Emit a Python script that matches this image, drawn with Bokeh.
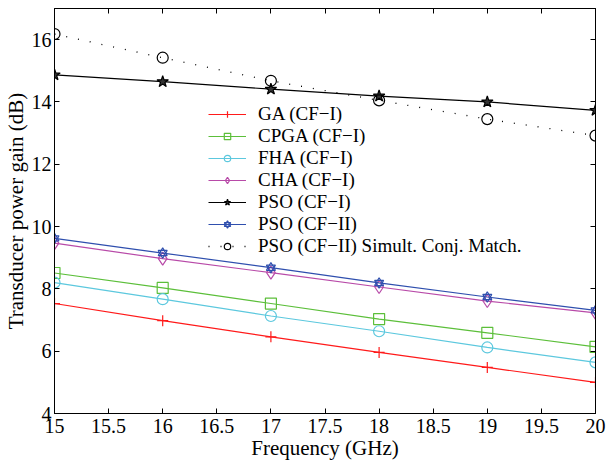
from bokeh.plotting import figure
from bokeh.models import (LinearAxis, FixedTicker, Range1d, Legend, LegendItem,
                          CustomJSTickFormatter)
from bokeh.embed import file_html
from bokeh.resources import INLINE

freq = [15, 16, 17, 18, 19, 20]
ga = [7.53, 6.98, 6.46, 5.96, 5.48, 5.0]
cpga = [8.51, 8.03, 7.53, 7.03, 6.59, 6.14]
fha = [8.2, 7.67, 7.13, 6.64, 6.12, 5.64]
cha = [9.47, 8.97, 8.52, 8.06, 7.61, 7.23]
pso1 = [14.87, 14.65, 14.41, 14.19, 14.0, 13.73]
pso2 = [9.62, 9.15, 8.68, 8.19, 7.74, 7.31]
pso_scm = [16.18, 15.42, 14.68, 14.05, 13.45, 12.92]

x_ticks = [15, 15.5, 16, 16.5, 17, 17.5, 18, 18.5, 19, 19.5, 20]
x_tick_labels = ["15", "15.5", "16", "16.5", "17", "17.5", "18", "18.5", "19", "19.5", "20"]
y_ticks = [4, 6, 8, 10, 12, 14, 16]

labels = ["GA (CF\u2212I)", "CPGA (CF\u2212I)", "FHA (CF\u2212I)", "CHA (CF\u2212I)",
          "PSO (CF\u2212I)", "PSO (CF\u2212II)", "PSO (CF\u2212II) Simult. Conj. Match."]

FONT = "Liberation Serif"

p = figure(width=607, height=466, output_backend="svg", toolbar_location=None,
           x_range=Range1d(15, 20), y_range=Range1d(4, 17),
           min_border_left=52, min_border_right=12, min_border_top=8, min_border_bottom=53)
p.background_fill_color = "white"
p.border_fill_color = "white"
p.grid.visible = False
p.outline_line_color = "black"
p.outline_line_width = 1

for ax in p.xaxis + p.yaxis:
    ax.major_tick_in = 5
    ax.major_tick_out = 0
    ax.minor_tick_line_color = None
    ax.axis_line_color = "black"
    ax.major_label_text_font = FONT
    ax.major_label_text_font_size = "20px"
    ax.major_label_text_color = "black"
    ax.axis_label_text_font = FONT
    ax.axis_label_text_font_size = "21px"
    ax.axis_label_text_font_style = "normal"
    ax.axis_label_text_color = "black"

p.xaxis.ticker = FixedTicker(ticks=x_ticks)
p.xaxis.major_label_overrides = dict(zip(x_ticks, x_tick_labels))
p.yaxis.ticker = FixedTicker(ticks=y_ticks)
p.xaxis.axis_label = "Frequency (GHz)"
p.yaxis.axis_label = "Transducer power gain (dB)"
p.xaxis.major_label_standoff = 5
p.yaxis.major_label_standoff = 3
p.xaxis.axis_label_standoff = 0
p.yaxis.axis_label_standoff = 1

blank = CustomJSTickFormatter(code="return ''")
top_ax = LinearAxis(ticker=FixedTicker(ticks=x_ticks), formatter=blank,
                    major_tick_in=5, major_tick_out=0,
                    minor_tick_line_color=None, major_label_standoff=0)
right_ax = LinearAxis(ticker=FixedTicker(ticks=y_ticks), formatter=blank,
                      major_tick_in=5, major_tick_out=0,
                      minor_tick_line_color=None, major_label_standoff=0)
p.add_layout(top_ax, "above")
p.add_layout(right_ax, "right")

red = "#ff1a1a"
green = "#5cbf3a"
cyan = "#5cc8de"
magenta = "#b84aa8"
blue = "#2f4fae"

items = []

l = p.line(freq, ga, line_color=red, line_width=1.2)
m = p.scatter(freq, ga, marker="cross", size=11, line_color=red, line_width=1.2)
items.append(LegendItem(label=labels[0], renderers=[l, m]))

l = p.line(freq, cpga, line_color=green, line_width=1.2)
m = p.scatter(freq, cpga, marker="square", size=11, line_color=green, fill_color=None, line_width=1.2)
items.append(LegendItem(label=labels[1], renderers=[l, m]))

l = p.line(freq, fha, line_color=cyan, line_width=1.2)
m = p.scatter(freq, fha, marker="circle", size=11, line_color=cyan, fill_color=None, line_width=1.2)
items.append(LegendItem(label=labels[2], renderers=[l, m]))

l = p.line(freq, cha, line_color=magenta, line_width=1.2)
m = p.scatter(freq, cha, marker="diamond", size=13, line_color=magenta, fill_color=None, line_width=1.2)
items.append(LegendItem(label=labels[3], renderers=[l, m]))

l = p.line(freq, pso1, line_color="black", line_width=1.2)
m = p.scatter(freq, pso1, marker="star", size=12, line_color="black", fill_color="#333333", line_width=1.2)
items.append(LegendItem(label=labels[4], renderers=[l, m]))

l = p.line(freq, pso2, line_color=blue, line_width=1.2)
m1 = p.scatter(freq, pso2, marker="triangle", size=9, line_color=blue, fill_color=None, line_width=1.2)
m2 = p.scatter(freq, pso2, marker="inverted_triangle", size=9, line_color=blue, fill_color=None, line_width=1.2)
items.append(LegendItem(label=labels[5], renderers=[l, m1, m2]))

l = p.line(freq, pso_scm, line_color="black", line_width=1.3, line_dash="1 11")
m = p.scatter(freq, pso_scm, marker="circle", size=11, line_color="black", fill_color=None, line_width=1.2)
items.append(LegendItem(label=labels[6], renderers=[l, m]))

legend = Legend(items=items, location=(154, 156), border_line_color=None,
                background_fill_alpha=0, padding=0, margin=0, spacing=0,
                glyph_width=38, glyph_height=16, label_height=16, label_standoff=12,
                label_text_font=FONT, label_text_font_size="19px", label_text_color="black")
p.add_layout(legend, "center")

open("out.html", "w").write(file_html(p, INLINE))
